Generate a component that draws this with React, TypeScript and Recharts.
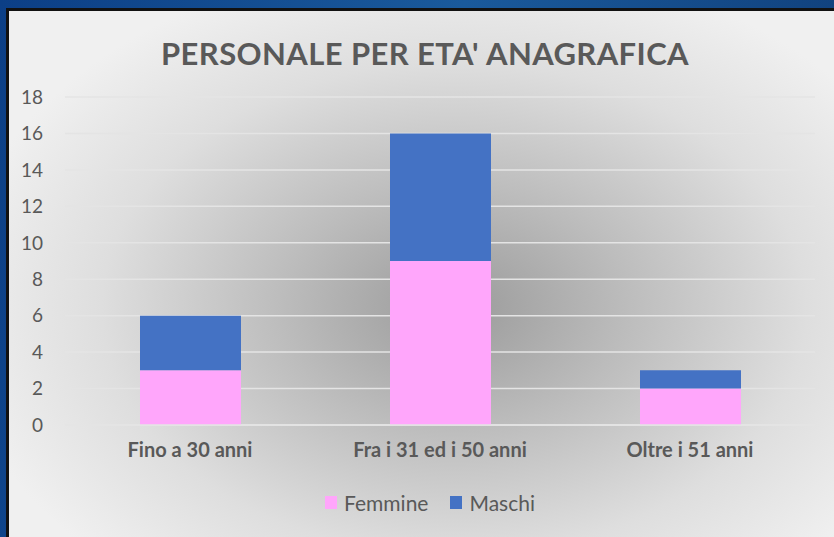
import { BarChart, Bar, XAxis, YAxis, CartesianGrid } from "recharts";

const categories = ["Fino a 30 anni", "Fra i 31 ed i 50 anni", "Oltre i 51 anni"];
const femmine = [3, 9, 2];
const maschi = [3, 7, 1];
const yTicks = [0, 2, 4, 6, 8, 10, 12, 14, 16, 18];

const data = categories.map((name, i) => ({
  name,
  Femmine: femmine[i],
  Maschi: maschi[i],
}));

const PINK = "#ffa6fb";
const BLUE = "#4472c4";
const TEXT = "#595959";
const FONT = "Lato, 'Open Sans', sans-serif";

function LegendItem({ color, label }: { color: string; label: string }) {
  return (
    <span style={{ display: "inline-flex", alignItems: "center", margin: "0 11px" }}>
      <span style={{ width: 12, height: 13, background: color, marginRight: 7 }} />
      <span>{label}</span>
    </span>
  );
}

export default function App() {
  return (
    <div
      style={{
        position: "absolute",
        left: 0,
        top: 0,
        width: 834,
        height: 537,
        overflow: "hidden",
        background: "linear-gradient(100deg, #0c3f86 0%, #1a5a9c 50%, #0f3d78 100%)",
        fontFamily: FONT,
      }}
    >
      <div
        style={{
          position: "absolute",
          left: 6,
          top: 8,
          width: 840,
          height: 540,
          borderLeft: "3px solid #111",
          borderTop: "3px solid #111",
          background:
            "radial-gradient(ellipse 60% 65% at 53% 55%, #9a9a9a 0%, #bdbdbd 35%, #dedede 70%, #f0f0f0 100%)",
        }}
      />
      <div
        style={{
          position: "absolute",
          left: 0,
          top: 34,
          width: 850,
          textAlign: "center",
          fontSize: 31,
          letterSpacing: 0.4,
          fontWeight: 700,
          color: TEXT,
        }}
      >
        PERSONALE PER ETA' ANAGRAFICA
      </div>
      <div style={{ position: "absolute", left: 0, top: 0 }}>
        <BarChart
          width={834}
          height={537}
          data={data}
          margin={{ top: 97, right: 19, left: 0, bottom: 72 }}
        >
          <CartesianGrid vertical={false} stroke="#e4e4e4" strokeWidth={1.5} />
          <XAxis
            dataKey="name"
            axisLine={{ stroke: "#e4e4e4", strokeWidth: 1.5 }}
            tickLine={false}
            tickMargin={12}
            height={40}
            tick={{ fill: TEXT, fontSize: 20, fontWeight: 700, fontFamily: FONT }}
          />
          <YAxis
            width={65}
            domain={[0, 18]}
            ticks={yTicks}
            axisLine={false}
            tickLine={false}
            tickMargin={16}
            tick={{ fill: TEXT, fontSize: 19, fontFamily: FONT }}
          />
          <Bar dataKey="Femmine" stackId="a" fill={PINK} barSize={101} isAnimationActive={false} />
          <Bar dataKey="Maschi" stackId="a" fill={BLUE} barSize={101} isAnimationActive={false} />
        </BarChart>
      </div>
      <div
        style={{
          position: "absolute",
          left: 0,
          top: 488,
          width: 860,
          textAlign: "center",
          fontSize: 21,
          color: TEXT,
        }}
      >
        <LegendItem color={PINK} label="Femmine" />
        <LegendItem color={BLUE} label="Maschi" />
      </div>
    </div>
  );
}
